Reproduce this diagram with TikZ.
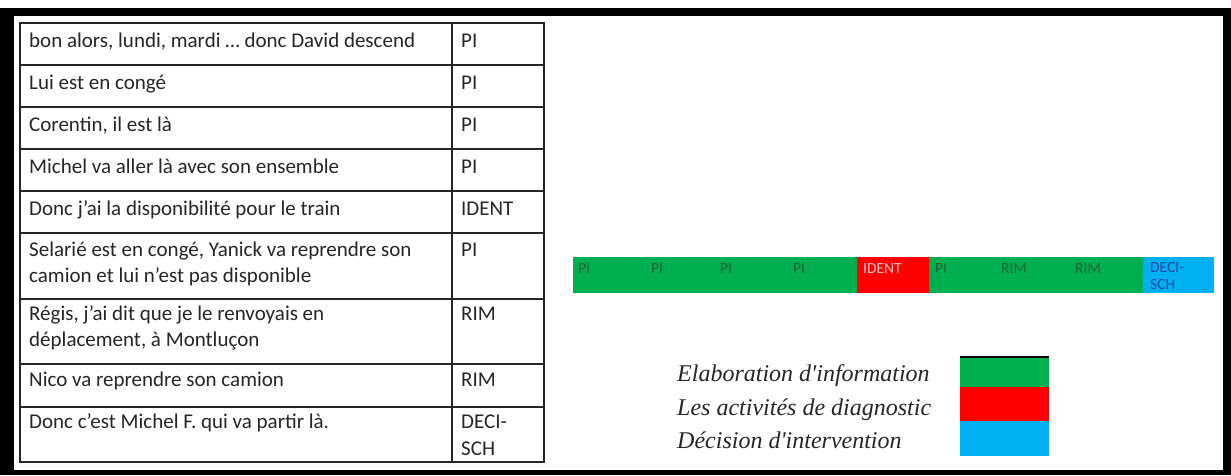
\documentclass[tikz,border=0pt]{standalone}
\usepackage{fontspec}
\setmainfont{Carlito}
\newfontfamily\legendfont{Liberation Serif}
\definecolor{bargreen}{RGB}{0,176,80}
\definecolor{barred}{RGB}{255,0,0}
\definecolor{barblue}{RGB}{0,176,240}
\definecolor{gtext}{RGB}{30,100,45}
\definecolor{rtext}{RGB}{255,195,195}
\definecolor{btext}{RGB}{25,70,160}
\begin{document}
\begin{tikzpicture}[x=1pt,y=-1pt,
  celltext/.style={anchor=base west,inner sep=0pt,text=black!85,font=\fontsize{21}{26}\selectfont},
  tabline/.style={draw=black!85,line width=1.3pt},
  seg/.style={anchor=north west,inner sep=0pt,minimum height=36pt},
  barlabel/.style={anchor=base west,inner sep=0pt,font=\fontsize{15.5}{17}\selectfont},
  legtext/.style={anchor=base west,inner sep=0pt,text=black!85,font=\legendfont\itshape\fontsize{24}{33}\selectfont},
  legbox/.style={anchor=north west,inner sep=0pt,minimum width=89pt},
]
\useasboundingbox (0,0) rectangle (1231,475);
\fill[black] (0,8) rectangle (1231,475);
\fill[white] (14,16) rectangle (1223,470);

% table
\draw[tabline] (20,23) rectangle (544,462);
\draw[tabline] (452,23) -- (452,462);
\foreach \y in {65,107,149,191,233,299,364,407} {\draw[tabline] (20,\y) -- (544,\y);}

\node[celltext] (a1) at (29,47) {bon alors, lundi, mardi … donc David descend};
\node[celltext] (b1) at (461,47) {PI};
\node[celltext] (a2) at (29,89) {Lui est en congé};
\node[celltext] (b2) at (461,89) {PI};
\node[celltext] (a3) at (29,131) {Corentin, il est là};
\node[celltext] (b3) at (461,131) {PI};
\node[celltext] (a4) at (29,173) {Michel va aller là avec son ensemble};
\node[celltext] (b4) at (461,173) {PI};
\node[celltext] (a5) at (29,215) {Donc j'ai la disponibilité pour le train};
\node[celltext] (b5) at (461,215) {IDENT};
\node[celltext] (a6) at (29,256) {Selarié est en congé, Yanick va reprendre son};
\node[celltext] (a6b) at (29,282) {camion et lui n'est pas disponible};
\node[celltext] (b6) at (461,256) {PI};
\node[celltext] (a7) at (29,320) {Régis, j'ai dit que je le renvoyais en};
\node[celltext] (a7b) at (29,346) {déplacement, à Montluçon};
\node[celltext] (b7) at (461,320) {RIM};
\node[celltext] (a8) at (29,386) {Nico va reprendre son camion};
\node[celltext] (b8) at (461,386) {RIM};
\node[celltext] (a9) at (29,428) {Donc c'est Michel F. qui va partir là.};
\node[celltext] (b9) at (461,428) {DECI-};
\node[celltext] (b9b) at (461,455) {SCH};

% bar
\node[seg,fill=bargreen,minimum width=284pt] (s1) at (573,257) {};
\node[seg,fill=barred,minimum width=72pt] (s2) at (857,257) {};
\node[seg,fill=bargreen,minimum width=214pt] (s3) at (929,257) {};
\node[seg,fill=barblue,minimum width=71pt] (s4) at (1143,257) {};
\foreach \x/\t/\n in {578/PI/p1,651/PI/p2,720/PI/p3,793/PI/p4,935/PI/p5,1001/RIM/p6,1075/RIM/p7}
  {\node[barlabel,text=gtext] (\n) at (\x,273) {\t};}
\node[barlabel,text=rtext] (p8) at (863,273) {IDENT};
\node[barlabel,text=btext] (p9) at (1150,272) {DECI-};
\node[barlabel,text=btext] (p9b) at (1150,289) {SCH};

% legend
\node[legtext] (l1) at (677,381) {Elaboration d'information};
\node[legtext] (l2) at (677,415) {Les activités de diagnostic};
\node[legtext] (l3) at (677,448) {Décision d'intervention};
\node[legbox,fill=bargreen,minimum height=30pt] (g1) at (960,357) {};
\node[legbox,fill=barred,minimum height=34pt] (g2) at (960,387) {};
\node[legbox,fill=barblue,minimum height=35pt] (g3) at (960,421) {};
\draw[line width=1.2pt] (g1.north west) -- (g1.north east);
\end{tikzpicture}
\end{document}
